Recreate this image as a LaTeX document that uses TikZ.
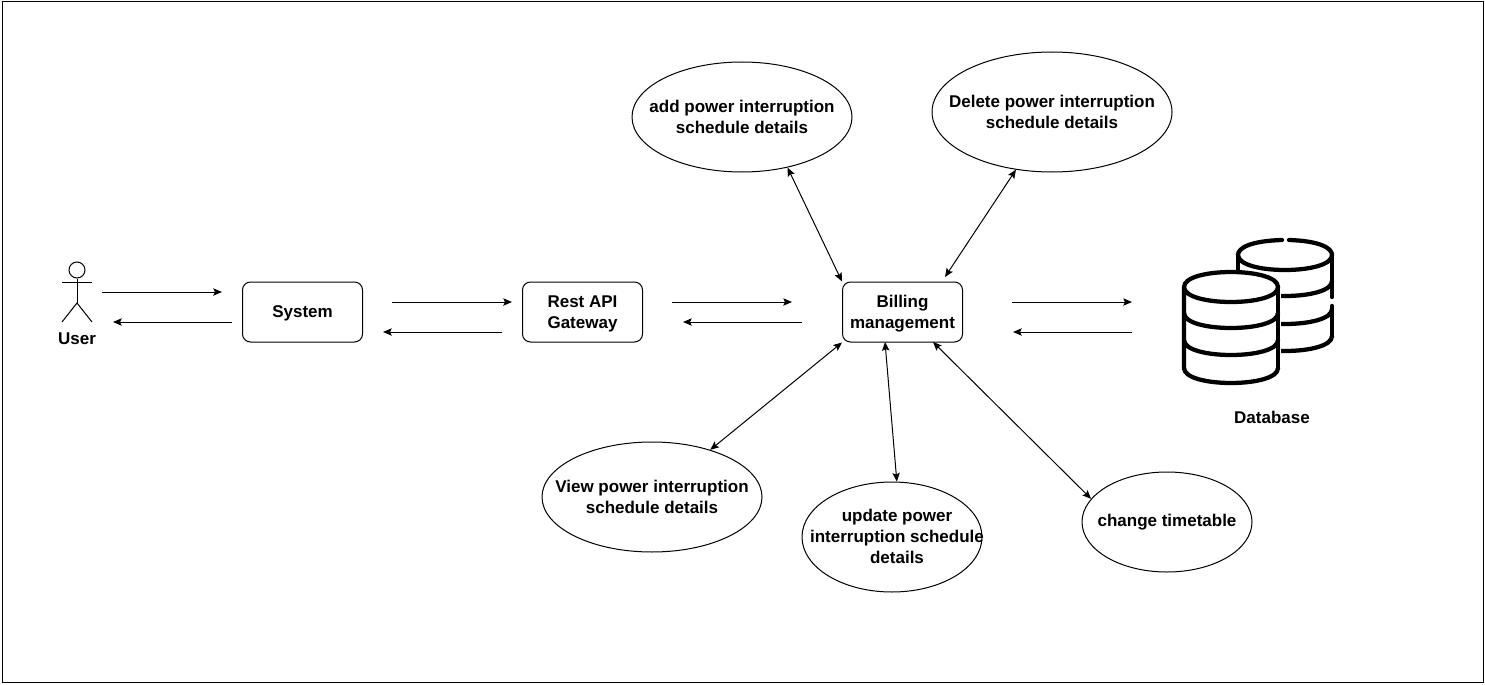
\documentclass[tikz,border=0pt]{standalone}
\usepackage{fontspec}
\setmainfont{Liberation Sans}
\usetikzlibrary{calc}
\usetikzlibrary{shapes,arrows.meta}

\tikzset{
  label/.style={font=\fontsize{12.75}{15.75}\selectfont\bfseries, align=center, inner sep=0pt},
  box/.style={label, draw, rounded corners=6pt, minimum width=90pt, minimum height=45pt},
  oval/.style={label, draw, ellipse, inner xsep=-60pt, inner ysep=-15pt},
  flow/.style={->, >={Stealth[length=6.5pt, width=5.5pt, inset=1.2pt]}, line width=0.75pt},
  both/.style={<->, >={Stealth[length=6.5pt, width=5.5pt, inset=1.2pt]}, line width=0.75pt},
  dbline/.style={line width=3.2pt, line cap=round, line join=round}
}
\newcommand{\boxtop}{\rule{0pt}{12.2pt}}

\begin{document}
\begin{tikzpicture}[x=0.75pt, y=-0.75pt, line width=0.75pt]
    \useasboundingbox (0,0) rectangle (1485,685);
    \draw [line width=0.75pt] (2,2) rectangle (1483,682);

    \node [draw, circle, minimum size=12pt, inner sep=0pt] (head) at (77,270) {};
    \coordinate (hip) at (77,303);
    \coordinate (armL) at (62,282);
    \coordinate (armR) at (92,282);
    \coordinate (legL) at (62,322);
    \coordinate (legR) at (92,322);
    \draw (head.south) -- (hip);
    \draw (armL) -- (armR);
    \draw (legL) -- (hip) -- (legR);
    \node [label] (user) at (77,339) {User};

    \node [box] (system) at (302.5,312) {\rule{0pt}{11.5pt}System};
    \node [box] (rest) at (582.5,312) {\boxtop Rest API\\Gateway};
    \node [box] (bill) at (902.5,312) {\boxtop Billing\\management};
    \node [label] (dblabel) at (1272,417) {Database};

    \node [oval, minimum width=165pt, minimum height=82.5pt] (add) at (742,117) {add power interruption\\schedule details};
    \node [oval, minimum width=180pt, minimum height=90pt] (del) at (1052,112) {Delete power interruption\\schedule details};
    \node [oval, minimum width=165pt, minimum height=82.5pt] (view) at (652,497) {View power interruption\\schedule details};
    \node [oval, minimum width=135pt, minimum height=82.5pt] (update) at (892,537) {};
    \node [label] (updatetext) at (897,536.5) {update power\\interruption schedule\\details};
    \node [oval, minimum width=127.5pt, minimum height=75pt] (change) at (1167,522) {change timetable};

    \coordinate (A0) at (102,292);
    \coordinate (A1) at (222,292);
    \coordinate (A2) at (232,322);
    \coordinate (A3) at (113,322);
    \coordinate (B0) at (392,302);
    \coordinate (B1) at (512,302);
    \coordinate (B2) at (502,332);
    \coordinate (B3) at (383,332);
    \coordinate (C0) at (672,302);
    \coordinate (C1) at (792,302);
    \coordinate (C2) at (802,322);
    \coordinate (C3) at (683,322);
    \coordinate (D0) at (1012,302);
    \coordinate (D1) at (1132,302);
    \coordinate (D2) at (1132,332);
    \coordinate (D3) at (1013,332);
    \coordinate (E0) at (945,277);
    \coordinate (E1) at (885,342);
    \coordinate (E2) at (933,342);

    \draw [flow](A0) -- (A1);
    \draw [flow](A2) -- (A3);
    \draw [flow](B0) -- (B1);
    \draw [flow](B2) -- (B3);
    \draw [flow](C0) -- (C1);
    \draw [flow](C2) -- (C3);
    \draw [flow](D0) -- (D1);
    \draw [flow](D2) -- (D3);

    \draw [both](add.312) -- (bill.north west);
    \draw [both](del.238) -- (E0);
    \draw [both](view.39) -- (bill.south west);
    \draw [both](update.85) -- (E1);
    \draw [both](change.163) -- (E2);

    \draw [dbline] (1184,287) .. controls (1184,267) and (1278,267) .. (1278,287)
      .. controls (1278,307) and (1184,307) .. (1184,287) -- (1184,368);
    \draw [dbline] (1278,287) -- (1278,368);
    \foreach \y in {313,340,368}
      \draw [dbline] (1184,\y) .. controls (1184,\y+20) and (1278,\y+20) .. (1278,\y);

    \draw [dbline] (1289,240) .. controls (1320,241) and (1332,248) .. (1332,255)
      .. controls (1332,275) and (1238,275) .. (1238,255)
      .. controls (1238,248) and (1250,241) .. (1282,240);
    \draw [dbline] (1238,255) -- (1238,270);
    \draw [dbline] (1332,255) -- (1332,297);
    \draw [dbline] (1332,306) -- (1332,336);
    \begin{scope}
      \clip (1281,270) rectangle (1340,360);
      \foreach \y in {281,309,336}
        \draw [dbline] (1238,\y) .. controls (1238,\y+20) and (1332,\y+20) .. (1332,\y);
    \end{scope}
\end{tikzpicture}
\end{document}
